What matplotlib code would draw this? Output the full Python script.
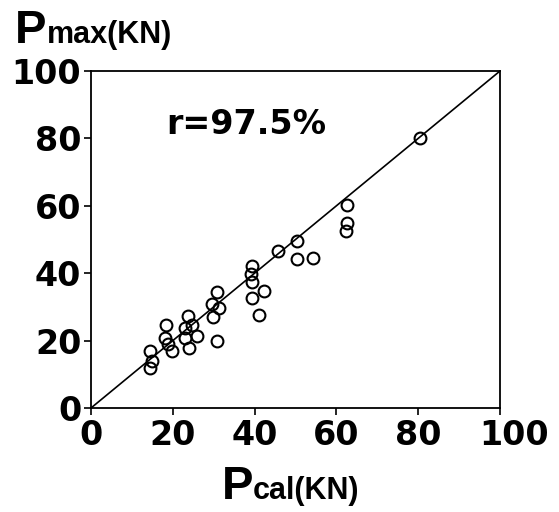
import numpy as np
import matplotlib
matplotlib.use("Agg")
import matplotlib.pyplot as plt
from matplotlib.transforms import ScaledTranslation

# values (kN)
p_cal = [80.5, 62.6, 62.6, 62.4, 50.4, 45.7, 50.4, 54.3,
         39.4, 39.1, 39.4, 42.3, 39.4, 41.0,
         30.7, 29.7, 31.4, 29.9, 30.9,
         23.7, 24.8, 23.0, 25.9, 22.9, 24.0,
         18.3, 18.0, 18.8, 19.8, 14.5, 14.9, 14.5]
p_max = [80.2, 60.3, 55.0, 52.4, 49.5, 46.6, 44.3, 44.5,
         42.1, 39.9, 37.5, 34.7, 32.5, 27.6,
         34.3, 30.8, 29.8, 27.1, 19.8,
         27.4, 24.5, 23.7, 21.5, 20.7, 17.8,
         24.5, 20.7, 19.0, 16.8, 17.0, 13.9, 11.9]
ticks = [0, 20, 40, 60, 80, 100]
r_text = "r=97.5%"

plt.rcParams['font.family'] = ['DejaVu Sans']

fig = plt.figure(figsize=(5.59, 5.12), dpi=100)
ax = fig.add_axes([91 / 559, 1 - 408 / 512, 409 / 559, 337 / 512])

# 1:1 line
ax.plot([0, 100], [0, 100], color='black', linewidth=1.2)
ax.plot(p_cal, p_max, 'o', markerfacecolor='none', markeredgecolor='black',
        markersize=8.5, markeredgewidth=1.5, linestyle='none')

ax.set_xlim(0, 100)
ax.set_ylim(0, 100)
ax.set_xticks(ticks)
ax.set_yticks(ticks)
ax.set_xticklabels([str(t) for t in ticks], fontsize=24, fontweight='bold')
ax.set_yticklabels([str(t) for t in ticks], fontsize=24, fontweight='bold')
ax.tick_params(direction='out', length=5, width=1.2)
ax.tick_params(axis='y', pad=2)
ax.tick_params(axis='x', pad=3)
for s in ax.spines.values():
    s.set_linewidth(1.3)

# last x label sits a little right of its tick in the original
last = ax.get_xticklabels()[-1]
last.set_transform(last.get_transform() + ScaledTranslation(0.14, 0, fig.dpi_scale_trans))

ax.text(18.5, 84, r_text, fontsize=24, fontweight='bold', va='center', ha='left')

# axis titles: big P followed by smaller text
lab_font = ['Liberation Sans', 'DejaVu Sans']
fig.text(15 / 559, 1 - 43 / 512, "P", fontsize=34, fontweight='bold',
         va='baseline', ha='left', family=lab_font)
fig.text(47 / 559, 1 - 43 / 512, "max(KN)", fontsize=22, fontweight='bold',
         va='baseline', ha='left', family=lab_font)
fig.text(222 / 559, 1 - 499 / 512, "P", fontsize=34, fontweight='bold',
         va='baseline', ha='left', family=lab_font)
fig.text(253 / 559, 1 - 499 / 512, "cal(KN)", fontsize=22, fontweight='bold',
         va='baseline', ha='left', family=lab_font)

fig.savefig("out.png", dpi=100)
